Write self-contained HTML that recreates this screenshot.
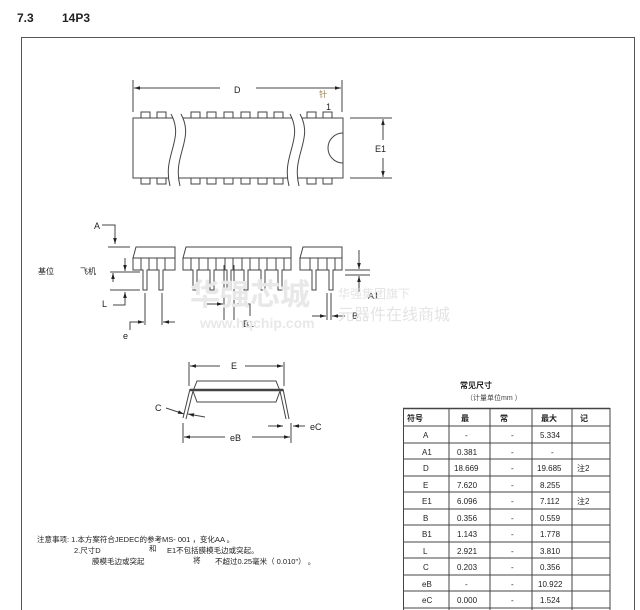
<!DOCTYPE html>
<html><head><meta charset="utf-8"><style>
body{margin:0;background:#fff;}
svg{display:block;font-family:"Liberation Sans","Noto Sans CJK SC",sans-serif;}
</style></head><body>
<svg width="640" height="610" viewBox="0 0 640 610" xmlns="http://www.w3.org/2000/svg">
<defs>
<marker id="a" viewBox="0 0 10 10" refX="10" refY="5" markerWidth="8" markerHeight="6" orient="auto-start-reverse"><path d="M0,2 L10,5 L0,8z" fill="#222"/></marker>
</defs>
<text x="17" y="22" font-size="12" font-weight="bold" fill="#222">7.3</text>
<text x="62" y="22" font-size="12" font-weight="bold" fill="#222">14P3</text>
<rect x="21.5" y="37.5" width="613" height="580" fill="none" stroke="#555" stroke-width="1"/>

<g stroke="#444" fill="none" stroke-width="1">
<!-- top view -->
<rect x="133" y="118" width="210" height="60" fill="#fff"/>
<g fill="#fff">
<rect x="141" y="112" width="9" height="6"/><rect x="157" y="112" width="9" height="6"/>
<rect x="191" y="112" width="9" height="6"/><rect x="207" y="112" width="9" height="6"/><rect x="224" y="112" width="9" height="6"/><rect x="241" y="112" width="9" height="6"/><rect x="258" y="112" width="9" height="6"/><rect x="274" y="112" width="9" height="6"/>
<rect x="307" y="112" width="9" height="6"/><rect x="323" y="112" width="9" height="6"/>
<rect x="141" y="178" width="9" height="6"/><rect x="157" y="178" width="9" height="6"/>
<rect x="191" y="178" width="9" height="6"/><rect x="207" y="178" width="9" height="6"/><rect x="224" y="178" width="9" height="6"/><rect x="241" y="178" width="9" height="6"/><rect x="258" y="178" width="9" height="6"/><rect x="274" y="178" width="9" height="6"/>
<rect x="307" y="178" width="9" height="6"/><rect x="323" y="178" width="9" height="6"/>
</g>
<path d="M171,114 C185,140 162,155 170,186 L180,186 C172,155 195,140 181,114z" fill="#fff" stroke="none"/>
<path d="M171,114 C185,140 162,155 170,186 M181,114 C195,140 172,155 180,186"/>
<path d="M290,114 C304,140 281,155 289,186 L299,186 C291,155 314,140 300,114z" fill="#fff" stroke="none"/>
<path d="M290,114 C304,140 281,155 289,186 M300,114 C314,140 291,155 299,186"/>
<path d="M343,133 A15,15 0 0 0 343,163"/>
<line x1="133" y1="80" x2="133" y2="112"/><line x1="342" y1="80" x2="342" y2="112"/>
<line x1="134" y1="88" x2="220" y2="88" marker-start="url(#a)"/><line x1="256" y1="88" x2="341" y2="88" marker-end="url(#a)"/>
<line x1="350" y1="118" x2="392" y2="118"/><line x1="350" y1="178" x2="392" y2="178"/>
<line x1="383" y1="140" x2="383" y2="119" marker-end="url(#a)"/><line x1="383" y1="158" x2="383" y2="177" marker-end="url(#a)"/>

<!-- side view -->
<g fill="#fff">
<path d="M136,247 L175,247 L175,258 L133,258 z"/>
<path d="M186,247 L291,247 L291,258 L183,258 z"/>
<path d="M303,247 L342,247 L342,258 L300,258 z"/>
</g>
<path d="M133,258 L133,270 L175,270 L175,258 M183,258 L183,270 L291,270 L291,258 M300,258 L300,270 L342,270 L342,258"/>
<g fill="#fff">
<path d="M141,258 v12 h2 v20 h4 v-20 h2 v-12z"/><path d="M157,258 v12 h2 v20 h4 v-20 h2 v-12z"/>
<path d="M191,258 v12 h2 v20 h4 v-20 h2 v-12z"/><path d="M208,258 v12 h2 v20 h4 v-20 h2 v-12z"/><path d="M225,258 v12 h2 v20 h4 v-20 h2 v-12z"/><path d="M242,258 v12 h2 v20 h4 v-20 h2 v-12z"/><path d="M259,258 v12 h2 v20 h4 v-20 h2 v-12z"/><path d="M276,258 v12 h2 v20 h4 v-20 h2 v-12z"/>
<path d="M310,258 v12 h2 v20 h4 v-20 h2 v-12z"/><path d="M327,258 v12 h2 v20 h4 v-20 h2 v-12z"/>
</g>
<polyline points="102,225 115,225 115,244" marker-end="url(#a)"/>
<line x1="108" y1="247" x2="130" y2="247"/>
<line x1="110" y1="272" x2="140" y2="272"/><line x1="110" y1="290" x2="140" y2="290"/>
<line x1="125" y1="258" x2="125" y2="271" marker-end="url(#a)"/>
<line x1="113" y1="282" x2="113" y2="273" marker-end="url(#a)"/>
<polyline points="113,305 125,305 125,292" marker-end="url(#a)"/>
<line x1="145" y1="293" x2="145" y2="325"/><line x1="162" y1="293" x2="162" y2="325"/>
<polyline points="130,330 130,322 144,322" marker-end="url(#a)"/><line x1="175" y1="322" x2="163" y2="322" marker-end="url(#a)"/>
<line x1="224" y1="265" x2="224" y2="320"/><line x1="234" y1="265" x2="234" y2="320"/>
<line x1="207" y1="304" x2="223" y2="304" marker-end="url(#a)"/><polyline points="250,316 250,304 235,304" marker-end="url(#a)"/>
<line x1="345" y1="270" x2="370" y2="270"/><line x1="345" y1="275" x2="370" y2="275"/>
<line x1="359" y1="250" x2="359" y2="269" marker-end="url(#a)"/><line x1="359" y1="292" x2="359" y2="276" marker-end="url(#a)"/>
<line x1="327" y1="293" x2="327" y2="320"/><line x1="331" y1="293" x2="331" y2="320"/>
<line x1="312" y1="316" x2="326" y2="316" marker-end="url(#a)"/><line x1="345" y1="316" x2="332" y2="316" marker-end="url(#a)"/>

<!-- end view -->
<path d="M197,381 L276,381 L280,391 L276,402 L197,402 L193,391 z" fill="#fff"/>
<line x1="190" y1="390" x2="283" y2="390" stroke-width="2.5"/>
<path d="M190,389 L183,418 M193,391 L186,419 M283,389 L289,419 M280,391 L286,419"/>
<line x1="189" y1="362" x2="189" y2="386"/><line x1="284" y1="362" x2="284" y2="386"/>
<line x1="190" y1="366" x2="220" y2="366" marker-start="url(#a)"/><line x1="245" y1="366" x2="283" y2="366" marker-end="url(#a)"/>
<line x1="183" y1="423" x2="183" y2="443"/><line x1="291" y1="423" x2="291" y2="443"/>
<line x1="184" y1="437" x2="225" y2="437" marker-start="url(#a)"/><line x1="252" y1="437" x2="290" y2="437" marker-end="url(#a)"/>
<line x1="166" y1="408" x2="184" y2="414" marker-end="url(#a)"/><line x1="205" y1="417" x2="188" y2="414" marker-end="url(#a)"/>
<line x1="268" y1="426" x2="283" y2="426" marker-end="url(#a)"/><line x1="305" y1="426" x2="293" y2="426" marker-end="url(#a)"/>
</g>

<g font-size="9" fill="#222">
<text x="234" y="93">D</text>
<text x="319" y="97" font-size="8" fill="#a08040">针</text>
<text x="326" y="110">1</text>
<text x="375" y="152">E1</text>
<text x="94" y="229">A</text>
<text x="38" y="274" font-size="8">基位</text>
<text x="80" y="274" font-size="8">飞机</text>
<text x="102" y="307">L</text>
<text x="123" y="339">e</text>
<text x="243" y="327">B1</text>
<text x="368" y="299">A1</text>
<text x="352" y="319">B</text>
<text x="231" y="369">E</text>
<text x="155" y="411">C</text>
<text x="230" y="441">eB</text>
<text x="310" y="430">eC</text>
</g>

<!-- watermark -->
<g fill="#e8e8e8" font-weight="bold">
<text x="190" y="305" font-size="30">华强芯城</text>
<text x="200" y="328" font-size="14">www.hqchip.com</text>
</g>
<g fill="#e4e4e4"><text x="338" y="298" font-size="12">华强集团旗下</text><text x="338" y="320" font-size="16">元器件在线商城</text></g>

<!-- table -->
<text x="460" y="388" font-size="8" font-weight="bold" fill="#222">常见尺寸</text>
<text x="466" y="400" font-size="7" fill="#444">（计量单位mm ）</text>
<g stroke="#444" stroke-width="1">
<line x1="403" y1="408.5" x2="610" y2="408.5" stroke-width="1.5"/>
<line x1="403" y1="426" x2="610" y2="426"/><line x1="403" y1="443" x2="610" y2="443"/><line x1="403" y1="459" x2="610" y2="459"/><line x1="403" y1="476" x2="610" y2="476"/><line x1="403" y1="492" x2="610" y2="492"/><line x1="403" y1="509" x2="610" y2="509"/><line x1="403" y1="525" x2="610" y2="525"/><line x1="403" y1="542" x2="610" y2="542"/><line x1="403" y1="558" x2="610" y2="558"/><line x1="403" y1="575" x2="610" y2="575"/><line x1="403" y1="591" x2="610" y2="591"/><line x1="403" y1="608" x2="610" y2="608"/>
<line x1="403.5" y1="408" x2="403.5" y2="610"/><line x1="449" y1="408" x2="449" y2="610"/><line x1="490" y1="408" x2="490" y2="610"/><line x1="532" y1="408" x2="532" y2="610"/><line x1="572" y1="408" x2="572" y2="610"/><line x1="610" y1="408" x2="610" y2="610"/>
</g>
<g font-size="8" fill="#222">
<text x="407" y="421" font-weight="bold">符号</text><text x="461" y="421" font-weight="bold">最</text><text x="500" y="421" font-weight="bold">常</text><text x="541" y="421" font-weight="bold">最大</text><text x="580" y="421" font-weight="bold">记</text>
<text x="423" y="438">A</text><text x="465" y="438">-</text><text x="511" y="438">-</text><text x="540" y="438">5.334</text>
<text x="422" y="455">A1</text><text x="457" y="455">0.381</text><text x="511" y="455">-</text><text x="551" y="455">-</text>
<text x="423" y="471">D</text><text x="454" y="471">18.669</text><text x="511" y="471">-</text><text x="537" y="471">19.685</text><text x="577" y="471">注2</text>
<text x="423" y="488">E</text><text x="457" y="488">7.620</text><text x="511" y="488">-</text><text x="540" y="488">8.255</text>
<text x="422" y="504">E1</text><text x="457" y="504">6.096</text><text x="511" y="504">-</text><text x="540" y="504">7.112</text><text x="577" y="504">注2</text>
<text x="423" y="521">B</text><text x="457" y="521">0.356</text><text x="511" y="521">-</text><text x="540" y="521">0.559</text>
<text x="422" y="537">B1</text><text x="457" y="537">1.143</text><text x="511" y="537">-</text><text x="540" y="537">1.778</text>
<text x="423" y="554">L</text><text x="457" y="554">2.921</text><text x="511" y="554">-</text><text x="540" y="554">3.810</text>
<text x="423" y="570">C</text><text x="457" y="570">0.203</text><text x="511" y="570">-</text><text x="540" y="570">0.356</text>
<text x="422" y="587">eB</text><text x="465" y="587">-</text><text x="511" y="587">-</text><text x="538" y="587">10.922</text>
<text x="422" y="603">eC</text><text x="457" y="603">0.000</text><text x="511" y="603">-</text><text x="540" y="603">1.524</text>
</g>

<!-- notes -->
<g font-size="7.5" fill="#222">
<text x="37" y="542">注意事项: 1.本方案符合JEDEC的参考MS- 001 ，变化AA 。</text>
<text x="74" y="553">2.尺寸D</text><text x="149" y="551">和</text><text x="167" y="553">E1不包括膜模毛边或突起。</text>
<text x="92" y="564">膜模毛边或突起</text><text x="193" y="563">将</text><text x="215" y="564">不超过0.25毫米（ 0.010"） 。</text>
</g>
</svg>
</body></html>
